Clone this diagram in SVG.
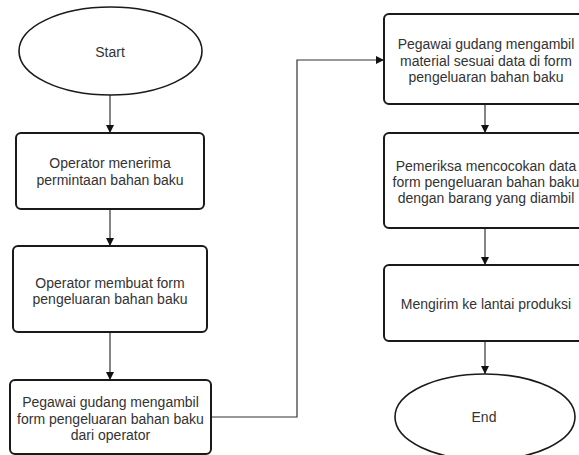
<svg xmlns="http://www.w3.org/2000/svg" width="579" height="455" viewBox="0 0 579 455">
<defs>
<style>
.box{fill:#fff;stroke:#1a1a1a;stroke-width:2}
.term{fill:#fff;stroke:#1a1a1a;stroke-width:1.6}
.t{font-family:"Liberation Sans",Arial,sans-serif;font-size:14px;fill:#333;text-anchor:middle}
.c{fill:none;stroke:#333;stroke-width:1.2}
</style>
<marker id="ah" viewBox="0 0 10 10" refX="10" refY="5" markerWidth="8" markerHeight="8" markerUnits="userSpaceOnUse" orient="auto">
<path d="M0,0 L10,5 L0,10 Z" fill="#111"/>
</marker>
</defs>
<rect width="579" height="455" fill="#fff"/>
<g id="connectors">
<line class="c" x1="110" y1="95" x2="110" y2="133" marker-end="url(#ah)"/>
<line class="c" x1="110" y1="209" x2="110" y2="246" marker-end="url(#ah)"/>
<line class="c" x1="110" y1="332" x2="110" y2="380" marker-end="url(#ah)"/>
<polyline class="c" points="211,417 297,417 297,60 384,60" marker-end="url(#ah)"/>
<line class="c" x1="485" y1="104" x2="485" y2="133" marker-end="url(#ah)"/>
<line class="c" x1="485" y1="228" x2="485" y2="265" marker-end="url(#ah)"/>
<line class="c" x1="485" y1="341" x2="485" y2="374" marker-end="url(#ah)"/>
</g>
<g id="start">
<ellipse class="term" cx="110.5" cy="51" rx="91.5" ry="44"/>
<text class="t" x="110" y="57">Start</text>
</g>
<g id="n1">
<rect class="box" x="16" y="133" width="188" height="76" rx="5"/>
<text class="t" x="110" y="168">Operator menerima</text>
<text class="t" x="110" y="185">permintaan bahan baku</text>
</g>
<g id="n2">
<rect class="box" x="13" y="246" width="194" height="86" rx="5"/>
<text class="t" x="110" y="288">Operator membuat form</text>
<text class="t" x="110" y="304">pengeluaran bahan baku</text>
</g>
<g id="n3">
<rect class="box" x="10" y="380" width="201" height="74" rx="5"/>
<text class="t" x="110.5" y="407">Pegawai gudang mengambil</text>
<text class="t" x="110.5" y="423.5">form pengeluaran bahan baku</text>
<text class="t" x="110.5" y="440">dari operator</text>
</g>
<g id="n4">
<rect class="box" x="384" y="14" width="206" height="90" rx="5"/>
<text class="t" x="486" y="49">Pegawai gudang mengambil</text>
<text class="t" x="486" y="65.5">material sesuai data di form</text>
<text class="t" x="486" y="82">pengeluaran bahan baku</text>
</g>
<g id="n5">
<rect class="box" x="384" y="133" width="206" height="95" rx="5"/>
<text class="t" x="486" y="171">Pemeriksa mencocokan data</text>
<text class="t" x="486" y="187">form pengeluaran bahan baku</text>
<text class="t" x="486" y="203">dengan barang yang diambil</text>
</g>
<g id="n6">
<rect class="box" x="384" y="265" width="206" height="76" rx="5"/>
<text class="t" x="486" y="309">Mengirim ke lantai produksi</text>
</g>
<g id="end">
<ellipse class="term" cx="485" cy="417" rx="90" ry="43"/>
<text class="t" x="484" y="422">End</text>
</g>
</svg>
